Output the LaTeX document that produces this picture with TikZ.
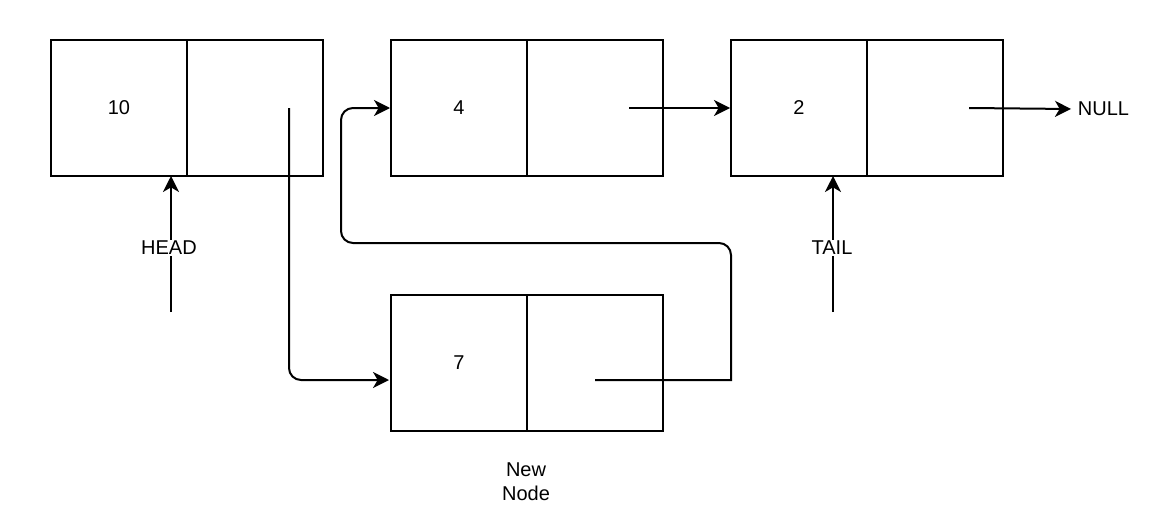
\documentclass[tikz,border=0pt]{standalone}
\usepackage{fontspec}
\setmainfont{Liberation Sans}
\usetikzlibrary{arrows.meta}
\usetikzlibrary{positioning}
\tikzset{
    cell/.style={
        draw,
        rectangle,
        line width=1.5pt,
        minimum size=102pt,
        inner sep=0pt,
        font=\fontsize{15}{18}\selectfont
    },
    link/.style={
        draw,
        line width=1.5pt,
        -{Stealth[length=12pt, width=12pt, inset=3.5pt]}
    },
    tag/.style={
        fill=white,
        inner sep=1pt,
        font=\fontsize{15}{18}\selectfont
    }
}

\begin{document}
\begin{tikzpicture}[x=0.75pt, y=-0.75pt]
  \useasboundingbox (0,0) rectangle (1176,528);

  % Data and pointer cells of the list
  \node[cell] (d1) at (119,108) {10};
  \node[cell] (p1) at (255,108) {};
  \node[cell] (d2) at (459,108) {4};
  \node[cell] (p2) at (595,108) {};
  \node[cell] (d3) at (799,108) {2};
  \node[cell] (p3) at (935,108) {};

  % New node
  \node[cell] (d4) at (459,363) {7};
  \node[cell] (p4) at (595,363) {};
  \node[tag, align=center] (new) at (526,482) {New\\Node};

  % Pointer start points
  \coordinate (s1) at (289,108);
  \coordinate (s2) at (629,108);
  \coordinate (s3) at (969,108);
  \coordinate (s4) at (595,380);
  \coordinate (t4) at (389,380);

  % Links between nodes
  \draw[link, rounded corners=9pt] (s1) |- (t4);
  \draw[link] (s2) -- (d3.west);
  \node[tag, anchor=west, inner xsep=5pt] (null) at (1071,109) {NULL};
  \draw[link] (s3) -- (null.west);
  \draw[link] (s4) -- (731,380) [rounded corners=9pt] -- (731,243) -- (341,243) -- (341,108) -- (d2.west);

  % Head and tail markers
  \coordinate (h) at (171,312);
  \coordinate (t) at (833,312);
  \draw[link] (h) -- (171,176);
  \draw[link] (t) -- (833,176);
  \node[tag] (head) at (169,248) {HEAD};
  \node[tag] (tail) at (832,248) {TAIL};
\end{tikzpicture}
\end{document}
